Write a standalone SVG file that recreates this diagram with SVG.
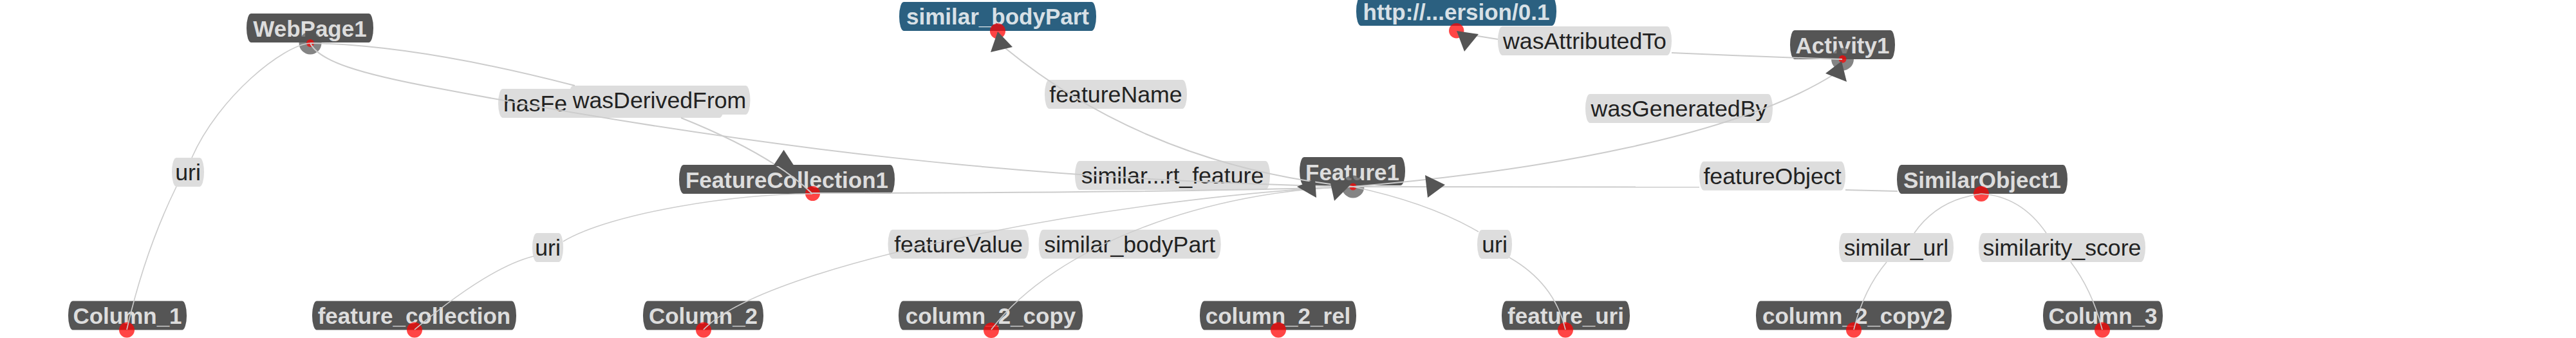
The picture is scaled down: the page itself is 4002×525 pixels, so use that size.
<svg xmlns="http://www.w3.org/2000/svg" width="4002" height="525" viewBox="0 0 4002 525">
<style>
.node rect{fill:#555}
.node text{font-family:"Liberation Sans",Arial,Helvetica,sans-serif;font-weight:bold;font-size:35px;fill:#ddd;text-anchor:middle}
.node.lit rect{fill:#2b6080}
.node.lit text{fill:#d8e0e6}
.anchor{fill:#f00;fill-opacity:.73}
.halo{fill:#555;fill-opacity:.72}
.label rect{fill:#ddd}
.label text{font-family:"Liberation Sans",Arial,Helvetica,sans-serif;font-size:35.7px;fill:#222;text-anchor:middle}
.label text.start{text-anchor:start}
.link{fill:none;stroke:#ccc;stroke-width:2}
.link.data{stroke-width:1.6}
.arrow{fill:#555}
</style>
<rect width="4002" height="525" fill="#fff"/>

<!-- nodes -->
<g id="node-WebPage1" class="node"><rect x="383" y="21" width="197" height="45" rx="7" ry="22"/><text x="481.5" y="56.5">WebPage1</text><circle class="halo" cx="482" cy="67" r="17.5"/><circle class="anchor" cx="482" cy="67" r="6"/></g>
<g id="node-similar_bodyPart" class="node lit"><rect x="1397" y="3" width="306" height="45" rx="7" ry="22"/><text x="1550" y="38">similar_bodyPart</text><circle class="anchor" cx="1550" cy="48.3" r="12"/></g>
<g id="node-http" class="node lit"><rect x="2107" y="-5" width="311" height="45" rx="7" ry="22"/><text x="2262.5" y="31">http://...ersion/0.1</text><circle class="anchor" cx="2262.7" cy="47.7" r="11.7"/></g>
<g id="node-FeatureCollection1" class="node"><rect x="1055" y="256" width="335" height="45" rx="7" ry="22"/><text x="1222.5" y="291.5">FeatureCollection1</text><circle class="anchor" cx="1262.5" cy="300.5" r="11.5"/></g>
<g id="node-Feature1" class="node"><rect x="2019" y="244" width="164" height="44" rx="7" ry="22"/><text x="2101" y="279.5">Feature1</text><circle class="halo" cx="2102" cy="290" r="17.5"/><circle class="anchor" cx="2102" cy="290" r="5.5"/></g>
<g id="node-Activity1" class="node"><rect x="2781" y="47" width="163" height="45" rx="7" ry="22"/><text x="2862.5" y="82.5">Activity1</text><circle class="halo" cx="2862.5" cy="92" r="17.5"/><circle class="anchor" cx="2862.5" cy="91.7" r="6"/></g>
<g id="node-SimilarObject1" class="node"><rect x="2947" y="256" width="265" height="45" rx="7" ry="22"/><text x="3079.5" y="291.5">SimilarObject1</text><circle class="anchor" cx="3078" cy="301" r="12"/></g>
<g id="node-Column_1" class="node"><rect x="106" y="467.5" width="184" height="45" rx="7" ry="22"/><text x="198" y="503">Column_1</text><circle class="anchor" cx="197" cy="512.5" r="12"/></g>
<g id="node-feature_collection" class="node"><rect x="485" y="467.5" width="317" height="45" rx="7" ry="22"/><text x="643.5" y="503">feature_collection</text><circle class="anchor" cx="644" cy="512.5" r="12"/></g>
<g id="node-Column_2" class="node"><rect x="999" y="467.5" width="187" height="45" rx="7" ry="22"/><text x="1092.5" y="503">Column_2</text><circle class="anchor" cx="1093" cy="512.5" r="12"/></g>
<g id="node-column_2_copy" class="node"><rect x="1396" y="467.5" width="286" height="45" rx="7" ry="22"/><text x="1539" y="503">column_2_copy</text><circle class="anchor" cx="1540" cy="513" r="12"/></g>
<g id="node-column_2_rel" class="node"><rect x="1864" y="467.5" width="243" height="45" rx="7" ry="22"/><text x="1985.5" y="503">column_2_rel</text><circle class="anchor" cx="1986" cy="512.5" r="12"/></g>
<g id="node-feature_uri" class="node"><rect x="2333" y="467.5" width="199" height="45" rx="7" ry="22"/><text x="2432.5" y="503">feature_uri</text><circle class="anchor" cx="2432" cy="512.5" r="12"/></g>
<g id="node-column_2_copy2" class="node"><rect x="2728" y="467.5" width="304" height="45" rx="7" ry="22"/><text x="2880" y="503">column_2_copy2</text><circle class="anchor" cx="2880" cy="512.5" r="12"/></g>
<g id="node-Column_3" class="node"><rect x="3174" y="467.5" width="186" height="45" rx="7" ry="22"/><text x="3267" y="503">Column_3</text><circle class="anchor" cx="3266" cy="512.5" r="12"/></g>

<!-- connectors -->
<g id="connectors">
  <g id="edge-labels">
    <g class="label"><rect x="267" y="245" width="50" height="45" rx="7" ry="22"/><text x="292" y="280">uri</text></g>
    <g class="label"><rect x="774" y="138" width="351" height="45" rx="7" ry="22"/><text class="start" x="782" y="173">hasFe</text></g>
    <g class="label"><rect x="883.5" y="133" width="282" height="45" rx="7" ry="22"/><text x="1024.5" y="168">wasDerivedFrom</text></g>
    <g class="label"><rect x="827" y="362" width="48" height="45" rx="7" ry="22"/><text x="851" y="397">uri</text></g>
    <g class="label"><rect x="1623" y="124" width="221" height="45" rx="7" ry="22"/><text x="1733.5" y="159">featureName</text></g>
    <g class="label"><rect x="1670" y="250" width="303" height="45" rx="7" ry="22"/><text x="1821.5" y="285">similar...rt_feature</text></g>
    <g class="label"><rect x="1379.5" y="356.7" width="219" height="45" rx="7" ry="22"/><text x="1489" y="391.7">featureValue</text></g>
    <g class="label"><rect x="1613.7" y="356.7" width="283" height="45" rx="7" ry="22"/><text x="1755.2" y="391.7">similar_bodyPart</text></g>
    <g class="label"><rect x="2295" y="357" width="54" height="45" rx="7" ry="22"/><text x="2322" y="392">uri</text></g>
    <g class="label"><rect x="2327" y="41" width="270" height="45" rx="7" ry="22"/><text x="2462" y="76">wasAttributedTo</text></g>
    <g class="label"><rect x="2463" y="146" width="291" height="45" rx="7" ry="22"/><text x="2608.5" y="181">wasGeneratedBy</text></g>
    <g class="label"><rect x="2640" y="250.7" width="227" height="45" rx="7" ry="22"/><text x="2753.5" y="285.7">featureObject</text></g>
    <g class="label"><rect x="2857" y="362" width="178" height="45" rx="7" ry="22"/><text x="2946" y="397">similar_url</text></g>
    <g class="label"><rect x="3074" y="362" width="259" height="45" rx="7" ry="22"/><text x="3203.5" y="397">similarity_score</text></g>
  </g>
  <g id="edge-lines">
    <path class="link data" d="M482,67 C440,70 340,150 298,245"/>
    <path class="link data" d="M274,290 Q225,390 197,512"/>
    <path class="link" d="M482,67 Q650,70 893,133"/>
    <path class="link" d="M1058,183 Q1200,240 1262,301"/>
    <path class="link" d="M482,67 C495,95 560,115 680,137 C1180,232 1602,280 2102,290"/>
    <path class="link data" d="M1262,301 C1150,300 950,330 875,375"/>
    <path class="link data" d="M829,398 Q760,415 644,512"/>
    <path class="link" d="M1262,300 C1600,300 1950,296 2102,290"/>
    <path class="link" d="M2102,290 C1852,265 1678,170 1562,75"/>
    <path class="link data" d="M2102,290 C1800,300 1200,400 1093,512"/>
    <path class="link data" d="M2102,290 C1880,295 1640,380 1540,512"/>
    <path class="link data" d="M2102,290 Q2220,315 2297,360"/>
    <path class="link data" d="M2345,400 Q2415,440 2432,512"/>
    <path class="link" d="M2102,290 C2400,265 2700,210 2850,115"/>
    <path class="link" d="M2102,290 L2640,290.5"/>
    <path class="link" d="M2867,295 L2948,297"/>
    <path class="link" d="M2862,92 Q2730,88 2597,82"/>
    <path class="link" d="M2327,61 L2290,55"/>
    <path class="link data" d="M3078,301 Q3010,310 2974,362"/>
    <path class="link data" d="M2931,407 Q2895,450 2880,512"/>
    <path class="link data" d="M3078,301 Q3140,305 3179,362"/>
    <path class="link data" d="M3217,407 Q3250,450 3266,512"/>
  </g>
  <g id="edge-arrows">
    <polygon class="arrow" points="1550,49 1573,73 1539,81"/>
    <polygon class="arrow" points="2263,48 2297,53 2275,80"/>
    <polygon class="arrow" points="2861,95 2836,114 2869,127"/>
    <polygon class="arrow" points="1217.6,232.7 1201,258 1234,258"/>
    <polygon class="arrow" points="2015,290 2043,278 2045,307"/>
    <polygon class="arrow" points="2073,312 2098,287 2066,280"/>
    <polygon class="arrow" points="2245,287 2214,272 2218,307"/>
  </g>
</g>
</svg>
